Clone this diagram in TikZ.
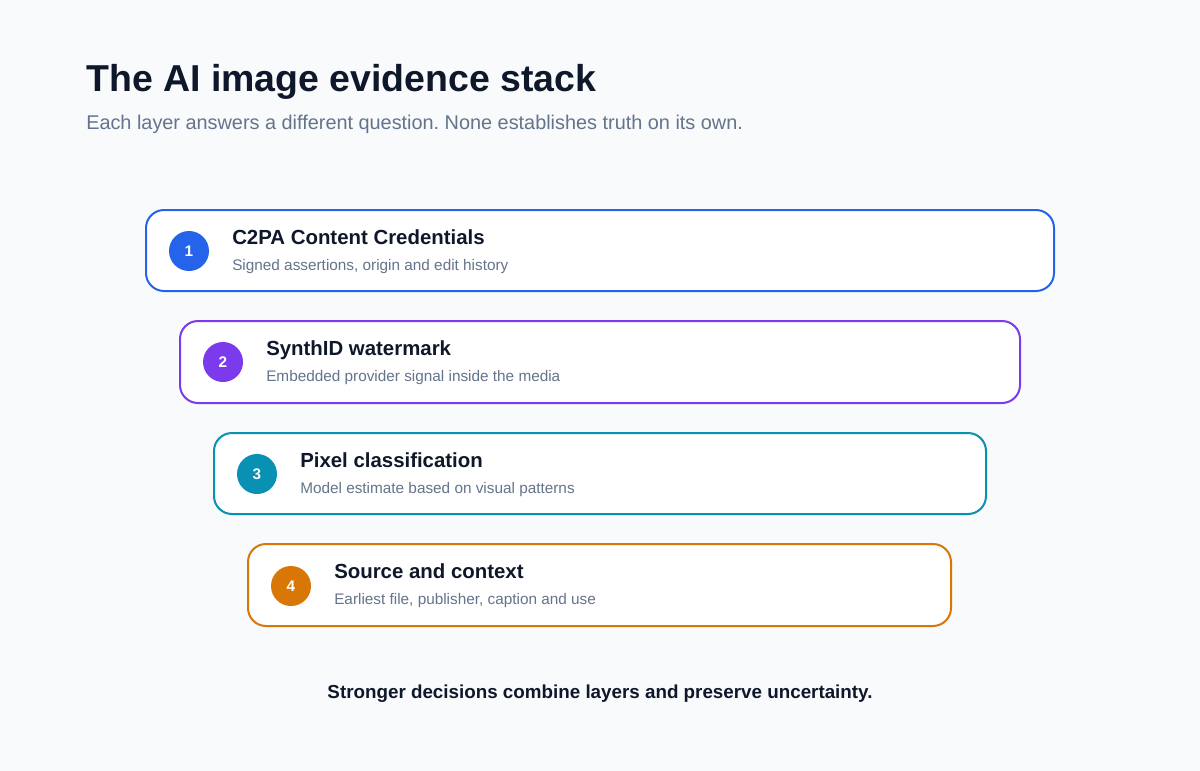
\documentclass[tikz,border=0pt]{standalone}
\usepackage{fontspec}
\setmainfont{Liberation Sans}
\frenchspacing
\definecolor{bg}{HTML}{F8FAFC}
\definecolor{ink}{HTML}{0F172A}
\definecolor{muted}{HTML}{64748B}
\definecolor{cblue}{HTML}{2563EB}
\definecolor{cpurple}{HTML}{7C3AED}
\definecolor{cteal}{HTML}{0891B2}
\definecolor{corange}{HTML}{D97706}
\tikzset{
  layerbox/.style={draw=#1, line width=1.5pt, fill=white, rounded corners=13.5pt, inner sep=0pt},
  numdot/.style={circle, fill=#1, minimum size=30pt, inner sep=0pt, text=white, font=\bfseries\fontsize{11.5pt}{13pt}\selectfont},
  layertitle/.style={anchor=base west, text=ink, font=\bfseries\fontsize{15.3pt}{18pt}\selectfont, inner sep=0pt},
  layersub/.style={anchor=base west, text=muted, font=\fontsize{11.5pt}{14pt}\selectfont, inner sep=0pt},
}
\begin{document}
\begin{tikzpicture}[x=0.75pt,y=-0.75pt]
\fill[bg] (0,0) rectangle (1200,771);
\useasboundingbox (0,0) rectangle (1200,771);
\node[anchor=base west, text=ink, font=\bfseries\fontsize{28.1pt}{32pt}\selectfont, inner sep=0pt] (title) at (86,91) {The AI image evidence stack};
\node[anchor=base west, text=muted, font=\fontsize{14.9pt}{18pt}\selectfont, inner sep=0pt] (subtitle) at (86,129) {Each layer answers a different question. None establishes truth on its own.};
% layer 1
\draw[layerbox=cblue] (146,210) rectangle (1054,291);
\node[numdot=cblue] (n1) at (189,251) {1};
\node[layertitle] (t1) at (232,244) {C2PA Content Credentials};
\node[layersub] (s1) at (232,270) {Signed assertions, origin and edit history};
% layer 2
\draw[layerbox=cpurple] (180,321) rectangle (1020,403);
\node[numdot=cpurple] (n2) at (223,362) {2};
\node[layertitle] (t2) at (266,355) {SynthID watermark};
\node[layersub] (s2) at (266,381) {Embedded provider signal inside the media};
% layer 3
\draw[layerbox=cteal] (214,433) rectangle (986,514);
\node[numdot=cteal] (n3) at (257,474) {3};
\node[layertitle] (t3) at (300,467) {Pixel classification};
\node[layersub] (s3) at (300,493) {Model estimate based on visual patterns};
% layer 4
\draw[layerbox=corange] (248,544) rectangle (951,626);
\node[numdot=corange] (n4) at (291,586) {4};
\node[layertitle] (t4) at (334,578) {Source and context};
\node[layersub] (s4) at (334,604) {Earliest file, publisher, caption and use};
\node[anchor=base, text=ink, font=\bfseries\fontsize{14.1pt}{17pt}\selectfont, inner sep=0pt] (foot) at (600,698) {Stronger decisions combine layers and preserve uncertainty.};
\end{tikzpicture}
\end{document}
